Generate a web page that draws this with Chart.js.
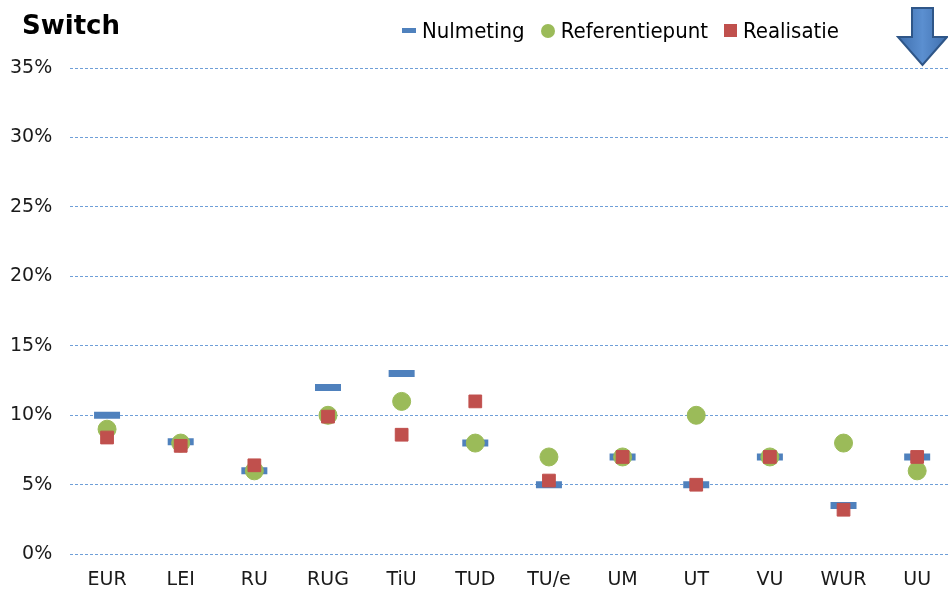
<!DOCTYPE html>
<html>
<head>
<meta charset="utf-8">
<script src="https://cdn.jsdelivr.net/npm/chart.js@4"></script>
<style>
  html, body { margin: 0; padding: 0; background: #fff; overflow: hidden; }
  #wrap { position: relative; width: 948px; height: 592px; overflow: hidden; }
  #Chart1 { position: absolute; left: 0; top: 0; }
  #title {
    position: absolute; left: 22px; top: 10px;
    font: bold 26px "DejaVu Sans", sans-serif; color: #000;
  }
  #legend {
    position: absolute; left: 402px; top: 18px;
    display: flex; align-items: center;
    font-family: "DejaVu Sans", sans-serif; font-size: 22px; font-stretch: condensed;
    color: #000;
  }
  #legend .item { display: flex; align-items: center; margin-right: 16px; }
  #legend .mk { margin-right: 6px; display: flex; align-items: center; }
  #arrow { position: absolute; left: 894px; top: 2px; }
</style>
</head>
<body>
<div id="wrap">
  <canvas id="Chart1" width="974" height="592"></canvas>
  <div id="title">Switch</div>
  <div id="legend"></div>
  <svg id="arrow" width="54" height="66" viewBox="0 0 54 66">
    <defs>
      <linearGradient id="g" x1="0" y1="0" x2="1" y2="0">
        <stop offset="0" stop-color="#3f6fae"/>
        <stop offset="0.5" stop-color="#5b8fd0"/>
        <stop offset="1" stop-color="#3f6fae"/>
      </linearGradient>
    </defs>
    <polygon points="18,6 39,6 39,35 53,35 28.5,63 4,35 18,35"
      fill="url(#g)" stroke="#2f5688" stroke-width="2" stroke-linejoin="miter"/>
  </svg>
</div>
<script>
// Waarden
const instellingen = ["EUR", "LEI", "RU", "RUG", "TiU", "TUD", "TU/e", "UM", "UT", "VU", "WUR", "UU"];
const nulmeting = [10, 8.1, 6, 12, 13, 8, 5, 7, 5, 7, 3.5, 7];
const referentiepunt = [9, 8, 6, 10, 11, 8, 7, 7, 10, 7, 8, 6];
const realisatie = [8.4, 7.8, 6.4, 9.9, 8.6, 11, 5.3, 7, 5, 7, 3.2, 7];
const yTicks = [0, 5, 10, 15, 20, 25, 30, 35];

const blauw = "#4F81BD";
const groen = "#9BBB59";
const rood = "#C0504D";

// Legenda
const legendItems = [
  { label: "Nulmeting", mk: '<span style="display:inline-block;width:14px;height:5px;background:' + blauw + '"></span>' },
  { label: "Referentiepunt", mk: '<span style="display:inline-block;width:14px;height:14px;border-radius:50%;background:' + groen + '"></span>' },
  { label: "Realisatie", mk: '<span style="display:inline-block;width:13px;height:13px;background:' + rood + '"></span>' },
];
document.getElementById("legend").innerHTML = legendItems
  .map((it) => '<div class="item"><span class="mk">' + it.mk + "</span>" + it.label + "</div>")
  .join("");

const ctx = document.getElementById("Chart1").getContext("2d");

new Chart(ctx, {
  type: "line",
  data: {
    labels: instellingen,
    datasets: [
      {
        label: "Nulmeting",
        data: nulmeting,
        showLine: false,
        pointStyle: "line",
        pointRadius: 13,
        pointHoverRadius: 13,
        borderColor: blauw,
        backgroundColor: blauw,
        pointBorderWidth: 7,
        order: 3,
      },
      {
        label: "Referentiepunt",
        data: referentiepunt,
        showLine: false,
        pointStyle: "circle",
        pointRadius: 9,
        pointHoverRadius: 9,
        borderColor: groen,
        backgroundColor: groen,
        pointBorderWidth: 1,
        order: 2,
      },
      {
        label: "Realisatie",
        data: realisatie,
        showLine: false,
        pointStyle: "rect",
        pointRadius: 9,
        pointHoverRadius: 9,
        borderColor: rood,
        backgroundColor: rood,
        pointBorderWidth: 1,
        order: 1,
      },
    ],
  },
  options: {
    responsive: false,
    animation: false,
    layout: { padding: { top: 68, left: -8, right: 0, bottom: -13 } },
    plugins: {
      legend: { display: false },
      tooltip: { enabled: false },
    },
    scales: {
      x: {
        offset: true,
        grid: { display: false, drawTicks: false },
        border: { display: false },
        ticks: {
          color: "#1a1a1a",
          font: { family: "DejaVu Sans", size: 19 },
          padding: 14,
          maxRotation: 0,
        },
      },
      y: {
        min: 0,
        max: 35,
        afterBuildTicks: (axis) => {
          axis.ticks = yTicks.map((v) => ({ value: v }));
        },
        grid: {
          color: "#6f9fd8",
          lineWidth: 1,
          drawTicks: false,
        },
        border: { display: false, dash: [3, 2] },
        ticks: {
          color: "#1a1a1a",
          font: { family: "DejaVu Sans", size: 19 },
          padding: 18,
          callback: (v) => v + "%",
        },
      },
    },
  },
});
</script>
</body>
</html>
